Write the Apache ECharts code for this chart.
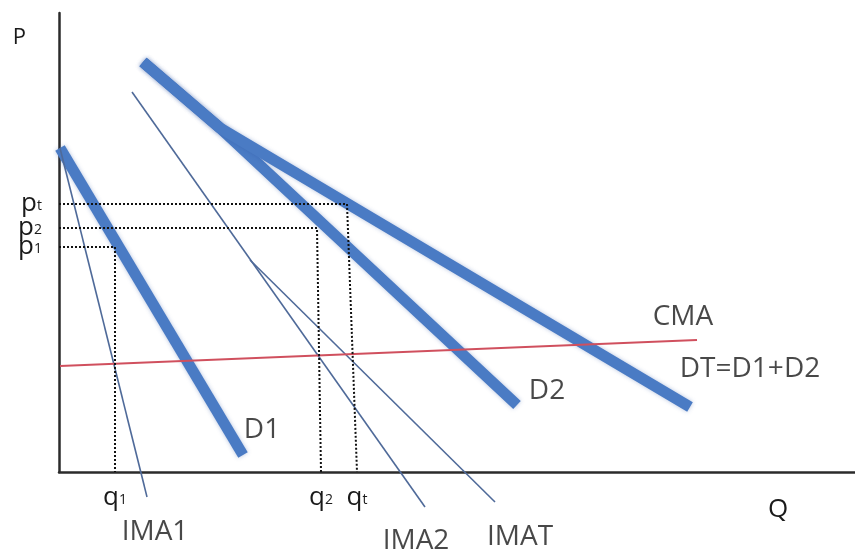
<!DOCTYPE html>
<html>
<head>
<meta charset="utf-8">
<script src="https://cdn.jsdelivr.net/npm/echarts@6/dist/echarts.min.js"></script>
<style>html,body{margin:0;padding:0;background:#fff}#c{width:855px;height:549px}</style>
</head>
<body>
<div id="c"></div>
<script>
// Values (arbitrary units: Q horizontal, P vertical)
const D1 = [[1, 324], [184, 17]];
const D2 = [[84, 410], [161, 344], [458, 67]];
const DT = [[84, 410], [161, 344], [631, 65]];
const IMA1 = [[1, 324], [88, -25]];
const IMA2 = [[73, 380], [366, -35]];
const IMAT = [[191, 212], [436, -30]];
const CMA = [[1, 106], [638, 132]];
const guideP1 = [[0, 225], [56, 225], [56, 0]];
const guideP2 = [[0, 244], [258, 244], [262, 0]];
const guidePT = [[0, 268], [288, 268], [298, 0]];
const priceTicks = [225, 244, 268];
const priceTickSubs = ['1', '2', 't'];
const quantityTicks = [56, 262, 298];
const quantityTickSubs = ['1', '2', 't'];

const FONT = 'Open Sans';
const chart = echarts.init(document.getElementById('c'));

function line(data, color, width, z, extra) {
  return Object.assign({
    type: 'line', data, showSymbol: false, symbol: 'none', clip: false, z,
    lineStyle: { color, width }
  }, extra || {});
}
function thick(data) {
  return line(data, '#4a7bc4', 11, 2, {
    lineStyle: { color: '#4a7bc4', width: 11, cap: 'butt', join: 'round',
      shadowBlur: 4, shadowColor: 'rgba(40,80,160,0.35)' }
  });
}
function guide(data) {
  return line(data, '#111', 2, 4, { lineStyle: { color: '#111', width: 2, type: [2, 2] } });
}
function nameAt(lineData, name, offset) {
  return { value: lineData[lineData.length - 1], name, label: { offset } };
}
const curveLabels = [
  nameAt(D1, 'D1', [19, -25]),
  nameAt(D2, 'D2', [30, -14]),
  nameAt(DT, 'DT=D1+D2', [60, -38]),
  nameAt(IMA1, 'IMA1', [8, 35]),
  nameAt(IMA2, 'IMA2', [-9, 34]),
  nameAt(IMAT, 'IMAT', [25, 35]),
  nameAt(CMA, 'CMA', [-14, -23])
];
const subRich = {
  a: { fontFamily: FONT, fontSize: 26, color: '#1a1a1a', lineHeight: 18 },
  s: { fontFamily: FONT, fontSize: 14, color: '#1a1a1a', lineHeight: 10, verticalAlign: 'bottom' }
};
const pFormatter = v => '{a|p}{s|' + priceTickSubs[priceTicks.indexOf(v)] + '}';

function priceAxis(values, visibleLine) {
  return {
    type: 'value', min: 0, max: 459, position: 'left', offset: 0,
    name: visibleLine ? 'P' : '', nameLocation: 'end', nameGap: -25,
    nameTextStyle: { fontFamily: FONT, fontSize: 22, color: '#1a1a1a', align: 'right', verticalAlign: 'middle', padding: [0, 33, 0, 0] },
    axisLine: { show: visibleLine, onZero: false, lineStyle: { color: '#2b2b2b', width: 2.5 } },
    axisTick: { show: false }, splitLine: { show: false },
    axisLabel: {
      customValues: values, margin: 17, hideOverlap: false,
      showMinLabel: true, showMaxLabel: true,
      formatter: pFormatter, rich: subRich
    }
  };
}

chart.setOption({
  animation: false,
  backgroundColor: '#fff',
  grid: { left: 59, right: 0, top: 13, bottom: 77 },
  xAxis: {
    type: 'value', min: 0, max: 796,
    name: '\nQ', nameLocation: 'end', nameGap: -77,
    nameTextStyle: { fontFamily: FONT, fontSize: 26, color: '#1a1a1a', align: 'center', verticalAlign: 'middle', lineHeight: 76 },
    axisLine: { lineStyle: { color: '#2b2b2b', width: 2.5 } },
    axisTick: { show: false }, splitLine: { show: false },
    axisLabel: {
      customValues: quantityTicks, margin: 17, hideOverlap: false,
      showMinLabel: true, showMaxLabel: true,
      formatter: v => '{a|q}{s|' + quantityTickSubs[quantityTicks.indexOf(v)] + '}',
      rich: subRich
    }
  },
  yAxis: [
    priceAxis([priceTicks[0], priceTicks[2]], true),
    priceAxis([priceTicks[1]], false)
  ],
  series: [
    thick(D1), thick(D2), thick(DT),
    line(IMA1, '#4f6a99', 1.6, 3),
    line(IMA2, '#4f6a99', 1.6, 3),
    line(IMAT, '#4f6a99', 1.6, 3),
    line(CMA, '#d0505e', 2, 3),
    guide(guideP1), guide(guideP2), guide(guidePT),
    {
      type: 'scatter', data: curveLabels, symbolSize: 0, clip: false, silent: true, z: 5,
      label: { show: true, position: 'inside', formatter: p => p.name,
        fontFamily: FONT, fontSize: 28, color: '#1a1a1a', textBorderWidth: 0 }
    }
  ]
});
</script>
</body>
</html>
